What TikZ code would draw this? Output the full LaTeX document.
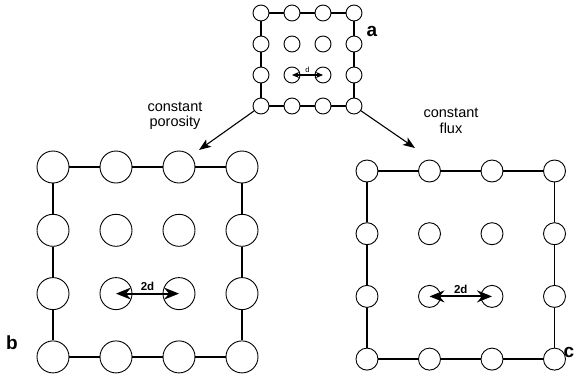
\documentclass[tikz,border=0pt]{standalone}
\usepackage{fontspec}
\setsansfont{Liberation Sans}
\usetikzlibrary{arrows.meta}
\tikzstyle{pore} = [draw, fill=white, circle, inner sep=0pt, line width=0.9pt]
\tikzstyle{edge} = [line width=1.4pt]
\tikzstyle{step arrow} = [-{Stealth[length=12pt,width=9pt,inset=3pt]}, line width=1.1pt]
\tikzstyle{dist} = [{Stealth[length=15pt,width=12pt,inset=5pt]}-{Stealth[length=15pt,width=12pt,inset=5pt]}, line width=2pt]
\tikzstyle{small dist} = [{Stealth[length=7pt,width=6pt,inset=2pt]}-{Stealth[length=7pt,width=6pt,inset=2pt]}, line width=1.1pt]
\tikzstyle{lbl} = [font=\sffamily\fontsize{14.5}{15.5}\selectfont, align=center]
\tikzstyle{tag} = [font=\sffamily\bfseries\fontsize{19}{19}\selectfont]
\tikzstyle{dlbl} = [above, inner sep=2pt, font=\sffamily\bfseries\fontsize{11.5}{11.5}\selectfont]

\begin{document}
\begin{tikzpicture}[x=1pt, y=-1pt]
\useasboundingbox (0,0) rectangle (576,378);

% the three pore grids (a small, b twice as wide, c with the same pores)
\foreach \i in {0,...,3} \foreach \j in {0,...,3} {
  \node [pore, minimum size=16pt] (a\i\j) at (261+31*\i, 13+31*\j) {};
  \node [pore, minimum size=32pt] (b\i\j) at (53+63*\i, 167+63.3*\j) {};
  \node [pore, minimum size=22pt] (c\i\j) at (367+62.5*\i, 171+62.7*\j) {};
}

% walls joining the outer pores
\foreach \g in {a,b,c} \foreach \k/\n in {0/1,1/2,2/3} {
  \draw [edge] (\g\k0) -- (\g\n0);
  \draw [edge] (\g\k3) -- (\g\n3);
  \draw [edge] (\g0\k) -- (\g0\n);
  \draw [edge] (\g3\k) -- (\g3\n);
}

% spacing between neighbouring pores
\draw [small dist] (a12.center) -- node [above, inner sep=1.5pt, font=\sffamily\fontsize{7.5}{7.5}\selectfont] {d} (a22.center);
\draw [dist] (b12.center) -- node [dlbl] {2d} (b22.center);
\draw [dist] (c12.center) -- node [dlbl] {2d} (c22.center);

% the two ways of scaling up
\coordinate (toB) at (199,150);
\coordinate (toC) at (415,148);
\draw [step arrow] (a03) -- (toB);
\draw [step arrow] (a33) -- (toC);
\node [lbl] (porosity) at (175,116) {constant\\porosity};
\node [lbl] (flux) at (451,121) {constant\\flux};

\node [tag] (la) at (372,31) {a};
\node [tag] (lb) at (12,343) {b};
\node [tag] (lc) at (569,352) {c};
\end{tikzpicture}
\end{document}
